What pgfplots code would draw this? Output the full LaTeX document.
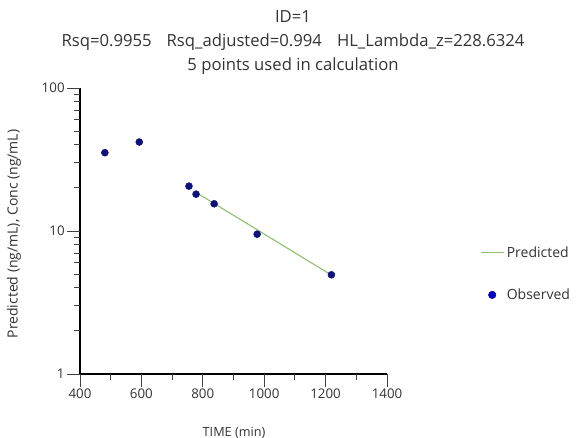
\documentclass[border=0pt]{standalone}
\usepackage{pgfplots}
\pgfplotsset{compat=1.18}
\usepackage{fontspec}
\setmainfont{Open Sans}
\definecolor{obs}{HTML}{10107A}
\definecolor{pred}{HTML}{8DBE6A}
\definecolor{txt}{HTML}{333333}
\begin{document}
\begin{tikzpicture}
\useasboundingbox (0,0) rectangle (432.75pt,328.5pt);
\node[txt,font=\fontsize{12.5}{14}\selectfont] at (219.75pt,315.75pt) {ID=1};
\node[txt,font=\fontsize{12.5}{14}\selectfont] at (219.75pt,297pt) {Rsq=0.9955\hspace{0.9em}Rsq\_adjusted=0.994\hspace{0.9em}HL\_Lambda\_z=228.6324};
\node[txt,font=\fontsize{12.5}{14}\selectfont] at (219.75pt,279pt) {5 points used in calculation};
\node[txt,font=\fontsize{9.5}{11}\selectfont] at (175.5pt,4pt) {TIME (min)};
\node[txt,font=\fontsize{10.5}{12}\selectfont,rotate=90] at (10.5pt,153pt) {Predicted (ng/mL), Conc (ng/mL)};
\begin{axis}[
  at={(60pt,48pt)}, anchor=south west,
  scale only axis, width=230.25pt, height=214.5pt,
  ymode=log, xmin=400, xmax=1400, ymin=1, ymax=100,
  axis x line*=bottom, axis y line*=left,
  axis line style={black, line width=1.3pt, -},
  xtick={400,600,...,1400}, minor xtick={500,700,...,1300},
  ytick={1,10,100}, yticklabels={1,10,100},
  minor ytick={2,3,4,5,6,7,8,9,20,30,40,50,60,70,80,90},
  tick align=outside,
  tick style={black!75, line width=0.7pt},
  major tick length=10pt, minor tick length=4.5pt,
  ticklabel style={txt, font=\fontsize{10}{12}\selectfont},
  xticklabel style={yshift=2pt},
  yticklabel style={xshift=2pt},
  /pgf/number format/assume math mode=true,
  /pgf/number format/1000 sep={},
  clip=false,
  legend style={draw=none, fill=none, at={(1.29,0.465)}, anchor=north west,
    font=\fontsize{10.5}{12}\selectfont, text=txt, row sep=18pt,
    legend cell align=left},
]
\addplot[pred, line width=0.8pt, forget plot] coordinates {(778,18.6) (1219,4.92)};
\addlegendimage{pred, line width=0.8pt}
\addlegendentry{Predicted}
\addplot[only marks, mark=*, mark size=2.6pt, obs, mark options={fill=obs,draw=obs}, forget plot] coordinates {
(481,35.3) (593,41.9) (755,20.6) (778,18.1) (837,15.5) (977,9.5) (1219,4.94)};
\addlegendimage{only marks, mark=*, mark size=2.8pt, blue!75!black, mark options={fill=blue!75!black}}
\addlegendentry{Observed}
\end{axis}
% tick lines (decoration only)
\foreach \t in {60,106.05,152.1,198.15,244.2,290.25}
  \draw[black!75, line width=0.7pt] (\t pt,48pt) -- (\t pt,38pt);
\foreach \t in {83.025,129.075,175.125,221.175,267.225}
  \draw[black!75, line width=0.7pt] (\t pt,48pt) -- (\t pt,43.5pt);
\foreach \t in {48,155.25,262.5}
  \draw[black!75, line width=0.7pt] (60pt,\t pt) -- (50pt,\t pt);
\foreach \t in {80.286,99.171,112.571,122.965,131.457,138.637,144.856,150.342,187.536,206.421,219.821,230.215,238.707,245.887,252.106,257.592}
  \draw[black!75, line width=0.7pt] (60pt,\t pt) -- (55.5pt,\t pt);
\end{tikzpicture}
\end{document}
